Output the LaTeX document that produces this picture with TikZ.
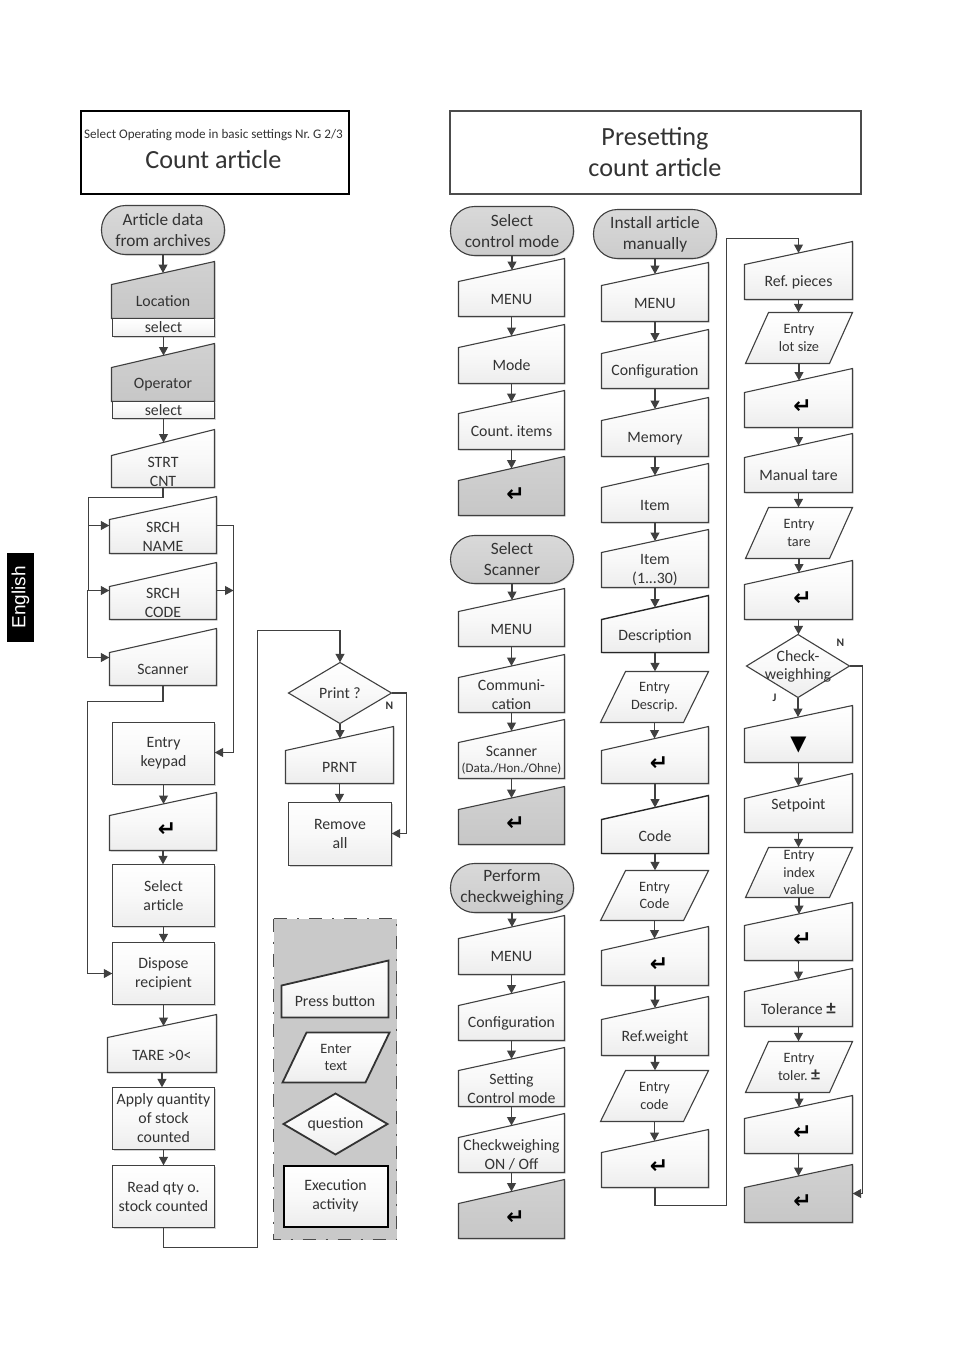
\documentclass[tikz,border=0pt]{standalone}
\usepackage{fontspec}
\setmainfont{Carlito}
\newfontfamily\sym{DejaVu Sans}
\newfontfamily\arialf{Liberation Sans}
\usetikzlibrary{arrows.meta,calc}
\AtBeginDocument{\frenchspacing}
\definecolor{ln}{HTML}{404040}
\definecolor{txt}{HTML}{333333}
\tikzset{
 boxs/.style={draw=ln,line width=1.1pt,top color=white,bottom color=gray!14,middle color=gray!5},
 darkf/.style={top color=gray!36,bottom color=gray!44,middle color=gray!40},
 darkl/.style={draw=black!85,line width=1.4pt},
 legl/.style={draw=black!80,line width=1.8pt},
 shad/.style={fill=gray!35,draw=none},
 lab/.style={inner sep=0pt,align=center,text=txt,font=\fontsize{15.8}{19}\selectfont},
 arr/.style={draw=ln,line width=1.1pt,-{Triangle[length=8.5pt,width=9pt]}},
 con/.style={draw=ln,line width=1.1pt},
 flag/.style={font=\bfseries\fontsize{11.5}{11.5}\selectfont,text=txt,inner sep=0pt},
}
\newcommand{\ent}{\hspace*{8pt}\raisebox{6pt}{\sym\bfseries\color{black}\fontsize{22}{19}\selectfont ↵}}
% manual input: [style]{name}{x1}{x2}{ytop}{yleft}{ybot}{text}
\newcommand{\mi}[2][]{\def\miopt{#1}\def\miname{#2}\miii}
\newcommand{\miii}[6]{%
 \pgfmathsetmacro\cxx{(#1+#2)/2}\pgfmathsetmacro\cyy{(#4+#5)/2}%
 \pgfmathsetmacro\ww{#2-#1}\pgfmathsetmacro\hh{#5-#4}\pgfmathsetmacro\tyy{(#3+#4)/2}%
 \fill[shad] (#1+1,#4+1) -- (#2+1,#3+1) -- (#2+1,#5+1) -- (#1+1,#5+1) -- cycle;
 \expandafter\mipath\expandafter{\miopt}{#1}{#2}{#3}{#4}{#5}%
 \node[lab,minimum width=\ww pt,minimum height=\hh pt] (\miname) at (\cxx,\cyy) {#6};
 \coordinate (\miname-t) at (\cxx,\tyy);
}
\newcommand{\mipath}[6]{\path[boxs,#1] (#2,#5) -- (#3,#4) -- (#3,#6) -- (#2,#6) -- cycle;}
% rectangle: [style]{name}{x1}{y1}{x2}{y2}{text}
\newcommand{\rc}[7][]{%
 \pgfmathsetmacro\cxx{(#3+#5)/2}\pgfmathsetmacro\cyy{(#4+#6)/2}%
 \pgfmathsetmacro\ww{#5-#3}\pgfmathsetmacro\hh{#6-#4}%
 \fill[shad] (#3+1,#4+1) -- (#5+1,#4+1) -- (#5+1,#6+1) -- (#3+1,#6+1) -- cycle;
 \path[boxs,#1] (#3,#4) -- (#5,#4) -- (#5,#6) -- (#3,#6) -- cycle;
 \node[lab,minimum width=\ww pt,minimum height=\hh pt] (#2) at (\cxx,\cyy) {#7};
 \coordinate (#2-t) at (#2.north);
}
% terminator
\newcommand{\tm}[6]{%
 \pgfmathsetmacro\cxx{(#2+#4)/2}\pgfmathsetmacro\cyy{(#3+#5)/2}%
 \pgfmathsetmacro\ww{#4-#2}\pgfmathsetmacro\hh{#5-#3}%
 \fill[shad,rounded corners=24pt] (#2+1,#3+1) rectangle (#4+1,#5+1);
 \path[boxs,top color=gray!30,bottom color=gray!40,middle color=gray!35,rounded corners=24pt] (#2,#3) rectangle (#4,#5);
 \node[lab,font=\fontsize{17.3}{21}\selectfont,minimum width=\ww pt,minimum height=\hh pt] (#1) at (\cxx,\cyy) {#6};
}
% diamond: [style]{name}{x1}{y1}{x2}{y2}{text}
\newcommand{\dm}[7][]{%
 \pgfmathsetmacro\cxx{(#3+#5)/2}\pgfmathsetmacro\cyy{(#4+#6)/2}%
 \pgfmathsetmacro\ww{#5-#3}\pgfmathsetmacro\hh{#6-#4}%
 \path[boxs,#1] (#3,\cyy) -- (\cxx,#4) -- (#5,\cyy) -- (\cxx,#6) -- cycle;
 \node[lab,minimum width=\ww pt,minimum height=\hh pt] (#2) at (\cxx,\cyy) {#7};
 \coordinate (#2-t) at (#2.north);
}
% parallelogram: [style]{name}{xbl}{xbr}{shift}{ytop}{ybot}{text}
\newcommand{\pl}[2][]{\def\plopt{#1}\def\plname{#2}\plii}
\newcommand{\plii}[6]{%
 \pgfmathsetmacro\cxx{(#1+#2+#3)/2}\pgfmathsetmacro\cyy{(#4+#5)/2}%
 \pgfmathsetmacro\ww{#2-#1}\pgfmathsetmacro\hh{#5-#4}%
 \expandafter\plpath\expandafter{\plopt}{#1}{#2}{#3}{#4}{#5}%
 \node[lab,font=\fontsize{14.3}{17.5}\selectfont,minimum width=\ww pt,minimum height=\hh pt] (\plname) at (\cxx,\cyy) {#6};
 \coordinate (\plname-t) at (\plname.north);
}
\newcommand{\plpath}[6]{\path[boxs,#1] (#2,#6) -- (#2+#4,#5) -- (#3+#4,#5) -- (#3,#6) -- cycle;}
\begin{document}
\begin{tikzpicture}[x=1pt,y=-1pt]
\useasboundingbox (0,0) rectangle (954,1350);
\fill[white] (0,0) rectangle (954,1350);
\begin{scope}[shift={(0.5,0.5)}]
% side tab
\node[fill=black,text=white,minimum width=89pt,minimum height=27pt,inner sep=0pt,rotate=90,font=\arialf\fontsize{19}{19}\selectfont] (tab) at (20,597) {English};
% headers
\node[draw=black,line width=2pt,minimum width=268pt,minimum height=83pt,inner sep=0pt] (hl) at (214,151.5) {};
\node[lab,font=\fontsize{13.1}{14}\selectfont] (hl1) at (213,135) {Select Operating mode in basic settings Nr. G 2/3};
\node[lab,font=\fontsize{26.2}{30}\selectfont] (hl2) at (213,159) {Count article};
\node[draw=black!70,line width=2pt,minimum width=411pt,minimum height=83pt,inner sep=0pt,align=center,text=txt,font=\fontsize{26.2}{31}\selectfont] (hr) at (654.5,151.5) {Presetting\\count article};
% column 1
\tm{t1}{101}{205}{224}{254}{Article data\\from archives}
\mi[darkf]{loc}{111}{214}{261}{284}{318}{Location}
\rc{sel1}{112}{318}{214}{336}{select}
\mi[darkf]{op}{111}{214}{343}{367}{401}{Operator}
\rc{sel2}{112}{401}{214}{418}{select}
\mi{strt}{111}{214}{429}{455}{487}{STRT\\CNT}
\mi{sn}{109}{216}{496}{519}{553}{SRCH\\NAME}
\mi{sc}{109}{216}{562}{586}{619}{SRCH\\CODE}
\mi{scan}{109}{216}{628}{652}{685}{Scanner}
\rc{ek}{112}{722}{214}{784}{Entry\\keypad}
\mi{en1}{109}{216}{792}{815}{850}{\ent}
\rc{sa}{112}{864}{214}{926}{Select\\article}
\rc{dr}{112}{942}{214}{1004}{Dispose\\recipient}
\mi{tare}{107}{216}{1014}{1037}{1072}{TARE >0<}
\rc{aq}{112}{1087}{214}{1149}{Apply quantity\\of stock\\counted}
\rc{rq}{112}{1165}{214}{1227}{Read qty o.\\stock counted}
% print branch
\dm{pr}{288}{662}{391}{723}{Print ?}
\mi{prnt}{285}{393}{726}{750}{783}{PRNT}
\rc{rem}{288}{802}{391}{865}{Remove\\all}
\node[flag] (nl) at (389,705) {N};
% legend
\path[fill=gray!42,draw=black!70,line width=1.8pt,dash pattern=on 13pt off 10pt on 2pt off 10pt] (273,918) rectangle (396,1239);
\mi[legl]{lg1}{281}{388}{960}{985}{1017}{Press button}
\pl[legl]{lg2}{282}{365}{24}{1032}{1082}{Enter\\text}
\dm[legl]{lg3}{283}{1093}{387}{1154}{question}
\rc[draw=black,line width=2pt]{lg4}{283}{1165}{387}{1226}{Execution\\activity}
% column 2
\tm{t2}{450}{206}{573}{255}{Select\\control mode}
\mi{b1}{458}{564}{258}{281}{316}{MENU}
\mi{b2}{458}{564}{324}{347}{383}{Mode}
\mi{b3}{458}{564}{390}{413}{449}{Count. items}
\mi[darkf]{b4}{458}{564}{456}{480}{515}{\ent}
\tm{t3}{450}{535}{573}{583}{Select\\Scanner}
\mi{c1}{458}{564}{588}{611}{646}{MENU}
\mi{c2}{458}{564}{654}{677}{712}{Communi-\\cation}
\mi{c3}{458}{564}{719}{742}{778}{Scanner\\[-3pt]{\fontsize{13}{14}\selectfont(Data./Hon./Ohne)}}
\mi[darkf]{c4}{458}{564}{786}{809}{844}{\ent}
\tm{t4}{450}{863}{573}{912}{Perform\\checkweighing}
\mi{d1}{458}{564}{915}{938}{974}{MENU}
\mi{d2}{458}{564}{981}{1005}{1040}{Configuration}
\mi{d3}{458}{564}{1047}{1070}{1106}{Setting\\Control mode}
\mi{d4}{458}{564}{1113}{1137}{1172}{Checkweighing\\ON / Off}
\mi[darkf]{d5}{458}{564}{1179}{1203}{1238}{\ent}
% column 3
\tm{t5}{593}{209}{716}{258}{Install article\\manually}
\mi{e1}{601}{708}{262}{285}{321}{MENU}
\mi{e2}{601}{708}{329}{353}{388}{Configuration}
\mi{e3}{601}{708}{397}{420}{456}{Memory}
\mi{e4}{601}{708}{463}{487}{522}{Item}
\mi{e5}{601}{708}{529}{552}{587}{Item\\(1...30)}
\mi[darkl]{e6}{601}{708}{595}{619}{652}{Description}
\pl{e7}{600}{683}{25}{671}{722}{Entry\\Descrip.}
\mi{e8}{601}{708}{726}{750}{783}{\ent}
\mi[darkl]{e9}{601}{708}{795}{819}{853}{Code}
\pl{e10}{600}{683}{25}{870}{920}{Entry\\Code}
\mi{e11}{601}{708}{926}{950}{985}{\ent}
\mi{e12}{601}{708}{996}{1019}{1055}{Ref.weight}
\pl{e13}{600}{683}{25}{1070}{1121}{Entry\\code}
\mi{e14}{601}{708}{1129}{1152}{1187}{\ent}
% column 4
\mi{f1}{744}{852}{241}{264}{299}{Ref. pieces}
\pl{f2}{745}{829}{23}{312}{363}{Entry\\lot size}
\mi{f3}{744}{852}{368}{392}{427}{\ent}
\mi{f4}{744}{852}{433}{457}{492}{Manual tare}
\pl{f5}{745}{829}{23}{507}{558}{Entry\\tare}
\mi{f6}{744}{852}{560}{584}{619}{\ent}
\dm{f7}{746}{634}{849}{697}{Check-\\[-1pt]weighhing}
\mi{f8}{744}{852}{705}{728}{762}{{\sym\color{black}\fontsize{21}{21}\selectfont ▼}}
\mi{f9}{744}{852}{773}{798}{832}{\raisebox{22pt}{Setpoint}}
\pl{f10}{745}{829}{23}{847}{897}{Entry\\index\\value}
\mi{f11}{744}{852}{902}{925}{960}{\ent}
\mi{f12}{744}{852}{968}{991}{1026}{Tolerance {\bfseries\fontsize{19}{19}\selectfont ±}}
\pl{f13}{745}{829}{23}{1041}{1092}{Entry\\toler. {\bfseries\fontsize{18}{17}\selectfont ±}}
\mi{f14}{744}{852}{1095}{1118}{1153}{\ent}
\mi[darkf]{f15}{744}{852}{1164}{1187}{1222}{\ent}
\node[flag] (nr) at (840,642) {N};
\node[flag] (jr) at (774,697) {J};
% straight connectors
\foreach \a/\b in {t1/loc,sel1/op,sel2/strt,ek/en1,en1/sa,sa/dr,dr/tare,tare/aq,aq/rq,
  pr/prnt,prnt/rem,
  t2/b1,b1/b2,b2/b3,b3/b4,t3/c1,c1/c2,c2/c3,c3/c4,t4/d1,d1/d2,d2/d3,d3/d4,d4/d5,
  t5/e1,e1/e2,e2/e3,e3/e4,e4/e5,e5/e6,e6/e7,e7/e8,e8/e9,e9/e10,e10/e11,e11/e12,e12/e13,e13/e14,
  f1/f2,f2/f3,f3/f4,f4/f5,f5/f6,f6/f7,f7/f8,f8/f9,f9/f10,f10/f11,f11/f12,f12/f13,f13/f14,f14/f15}
  {\draw[arr] (\a.south) -- (\a.south |- \b-t);}
% routed connectors, column 1
\coordinate (k1) at (88,497);
\coordinate (k2) at (87,590);
\coordinate (k3) at (233,525);
\coordinate (k4) at (233,752);
\coordinate (k5) at (87,701);
\coordinate (k6) at (87,973);
\coordinate (k8) at (257,1247);
\coordinate (k9) at (257,630);
\coordinate (k10) at (339.5,630);
\coordinate (k11) at (406,692.5);
\coordinate (k12) at (406,833);
\coordinate (k13) at (88,525);
\coordinate (k14) at (87,657);
\draw[con] (strt.south) |- (k1) -- (k1 |- k2) -- (k2) -- (k14);
\draw[arr] (k13) -- (k13 -| sn.west);
\draw[arr] (k2) -- (k2 -| sc.west);
\draw[arr] (k14) -- (k14 -| scan.west);
\draw[con] (k3 -| sn.east) -- (k3) -- (k4);
\draw[arr] (k4) -- (k4 -| ek.east);
\draw[arr] (k2 -| sc.east) -- (k2 -| k3);
\draw[con] (scan.south) |- (k5) -- (k6);
\draw[arr] (k6) -- (k6 -| dr.west);
\draw[arr] (rq.south) |- (k8) -- (k9) -- (k10) -- (pr.north);
\draw[arr] (pr.east) -- (k11) -- (k12) -- (k12 -| rem.east);
% routed connectors, columns 3 and 4
\coordinate (m2) at (726,1205);
\coordinate (m3) at (726,238);
\coordinate (m4) at (798,238);
\coordinate (m5) at (862,665.5);
\coordinate (m6) at (862,1193);
\draw[arr] (e14.south) |- (m2) -- (m3) -- (m4) -- (f1-t);
\draw[arr] (f7.east) -- (m5) -- (m6) -- (m6 -| f15.east);
\end{scope}
\end{tikzpicture}
\end{document}
